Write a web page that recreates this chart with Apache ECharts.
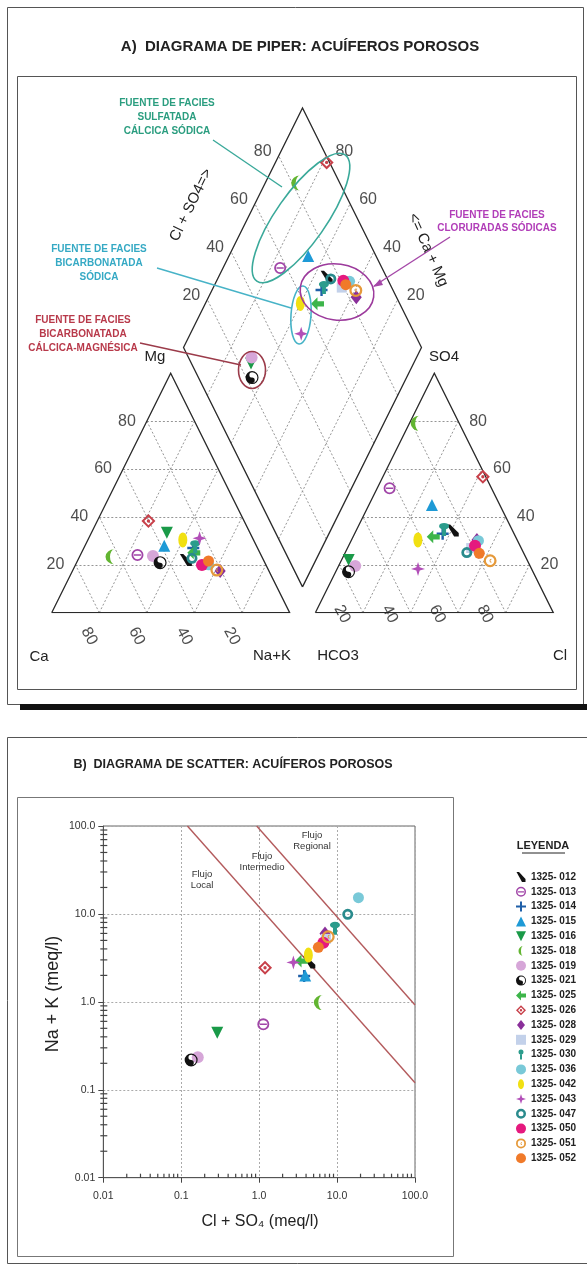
<!DOCTYPE html>
<html><head><meta charset="utf-8">
<script src="https://cdn.jsdelivr.net/npm/echarts@6/dist/echarts.min.js"></script>
<style>html,body{margin:0;padding:0;background:#fff}#c{width:587px;height:1267px}</style>
</head><body><div id="c"></div>
<script>
// ---------------- DATA ----------------
const sampleIds = ['1325- 012','1325- 013','1325- 014','1325- 015','1325- 016','1325- 018','1325- 019','1325- 021','1325- 025','1325- 026','1325- 028','1325- 029','1325- 030','1325- 036','1325- 042','1325- 043','1325- 047','1325- 050','1325- 051','1325- 052'];
// cations (% meq)
const caPct  = [32.6, 51.9, 27.0, 38.7, 34.9, 63.8, 45.6, 44.0, 27.8, 40.2, 20.5, 26.0, 25.9, 24.0, 29.7, 22.3, 29.7, 26.9, 21.7, 23.3];
const mgPct  = [22.0, 24.1, 27.0, 28.0, 33.4, 23.4, 23.7, 20.9, 25.0, 38.3, 17.4, 20.0, 27.6, 20.0, 30.4, 31.1, 22.7, 19.9, 17.8, 21.6];
const naKPct = [45.4, 24.0, 46.0, 33.3, 31.7, 12.8, 30.7, 35.1, 47.2, 21.5, 62.1, 54.0, 46.5, 56.0, 39.9, 46.6, 47.6, 53.2, 60.5, 55.1];
// anions (% meq)
const hco3Pct = [25.1, 42.8, 30.0, 28.5, 75.0, 18.5, 73.5, 77.5, 34.6, 1.2, 16.9, 21.0, 28.5, 16.4, 41.7, 47.7, 23.8, 18.9, 15.7, 18.7];
const so4Pct  = [34.3, 52.0, 33.0, 45.0, 22.0, 79.1, 19.5, 17.1, 31.7, 56.8, 30.4, 27.0, 34.8, 30.1, 30.4, 18.3, 25.1, 28.0, 21.7, 24.8];
const clPct   = [40.6, 5.2, 37.0, 26.5, 3.0, 2.4, 7.0, 5.4, 33.7, 42.0, 52.7, 52.0, 36.7, 53.5, 27.9, 34.0, 51.1, 53.1, 62.6, 56.5];
// scatter (meq/l)
const clSo4Meq = [4.4, 1.13, 3.78, 3.9, 0.29, 5.75, 0.163, 0.134, 3.5, 1.19, 7.0, 7.2, 9.4, 18.8, 4.28, 2.75, 13.7, 6.67, 7.7, 5.75];
const naKMeq   = [2.81, 0.555, 1.97, 2.0, 0.446, 0.98, 0.234, 0.218, 2.91, 2.44, 6.0, 5.2, 6.86, 15.3, 3.4, 2.81, 9.9, 4.7, 5.5, 4.17];
// flow boundaries (meq/l)
const flowLocalLine = [[0.12, 100], [100, 0.12]];
const flowRegionalLine = [[0.93, 100], [100, 0.92]];
// ticks
const piperTicks = [20, 40, 60, 80];
const logTicks = [0.01, 0.1, 1, 10, 100];
const xTickLabels = ['0.01', '0.1', '1.0', '10.0', '100.0'];
const yTickLabels = ['0.01', '0.1', '1.0', '10.0', '100.0'];
const minorMultipliers = [2, 3, 4, 5, 6, 7, 8, 9];

// ---------------- STYLE ----------------
const sampleColors = ['#111111','#a146a8','#1f5fa8','#1e9ad6','#1a9a48','#62b531','#d6a6d8','#111111','#3db54a','#c8404a','#8a2f9a','#c3d1ea','#2b9c8c','#79c9d8','#f1e012','#b24fb8','#2a8b8d','#e5197e','#e5993a','#f07a2a'];
const ring = 'M10,0 A10,10 0 1,1 10,20 A10,10 0 1,1 10,0 Z ';
const sampleSymbols = [
  'path://M2,0 L7,0 L20,14 L20,20 L13,20 Z',
  'path://' + ring + 'M10,3 A7,7 0 1,0 10,17 A7,7 0 1,0 10,3 Z M4,8.8 L16,8.8 L16,11.2 L4,11.2 Z',
  'path://M8,0 L12,0 L12,8 L20,8 L20,12 L12,12 L12,20 L8,20 L8,12 L0,12 L0,8 L8,8 Z',
  'triangle',
  'path://M0,0 L20,0 L10,20 Z',
  'path://M14,0 A10,10 0 0,0 14,20 A5,10 0 0,1 14,0 Z',
  'circle',
  'path://' + ring + 'M10,1.8 A8.2,8.2 0 1,0 10,18.2 A8.2,8.2 0 1,0 10,1.8 Z M10,1.8 A8.2,8.2 0 0,0 10,18.2 A4.1,4.1 0 0,0 10,10 A4.1,4.1 0 0,1 10,1.8 Z',
  'path://M0,10 L10,0 L10,6 L20,6 L20,14 L10,14 L10,20 Z',
  'path://M10,0 L20,10 L10,20 L0,10 Z M10,4 L4,10 L10,16 L16,10 Z M10,7.6 A2.4,2.4 0 1,1 10,12.4 A2.4,2.4 0 1,1 10,7.6 Z',
  'path://M10,0 L18,10 L10,20 L2,10 Z',
  'rect',
  'path://M10,0 A5,5 0 1,1 10,10 A5,5 0 1,1 10,0 Z M8,9 L12,9 L12,20 L8,20 Z',
  'circle',
  'path://M10,0 A6,10 0 1,1 10,20 A6,10 0 1,1 10,0 Z',
  'path://M10,0 L12.4,7.6 L20,10 L12.4,12.4 L10,20 L7.6,12.4 L0,10 L7.6,7.6 Z',
  'path://' + ring + 'M10,5 A5,5 0 1,0 10,15 A5,5 0 1,0 10,5 Z',
  'circle',
  'path://' + ring + 'M10,3.5 A6.5,6.5 0 1,0 10,16.5 A6.5,6.5 0 1,0 10,3.5 Z M12,7 A3,3 0 1,0 12,13 L12,11.5 A1.5,1.5 0 1,1 12,8.5 Z',
  'circle'
];
const sampleSizes = [12,12,12,12,12,[9,15],12,13,13,14,[11,14],10,[10,13],11,[9,15],14,11,12,13,11];

const FONT = "'Liberation Sans', Arial, Helvetica, sans-serif";
const GAP = 10.8;
const BX = 100 + GAP / 2, BY = GAP;
function triL(ca, mg, na) { return [na + mg / 2, mg]; }
function triR(hco3, so4, cl) { return [100 + GAP + cl + so4 / 2, so4]; }
function dia(caMg, clSo4) { return [BX - caMg / 2 + clSo4 / 2, BY + caMg + clSo4]; }

// piper grid lines
const gridSegs = [];
piperTicks.forEach(t => {
  gridSegs.push({coords: [triL(100 - t, t, 0), triL(0, t, 100 - t)]});
  gridSegs.push({coords: [triL(t, 0, 100 - t), triL(t, 100 - t, 0)]});
  gridSegs.push({coords: [triL(100 - t, 0, t), triL(0, 100 - t, t)]});
  gridSegs.push({coords: [triR(100 - t, t, 0), triR(0, t, 100 - t)]});
  gridSegs.push({coords: [triR(t, 0, 100 - t), triR(t, 100 - t, 0)]});
  gridSegs.push({coords: [triR(100 - t, 0, t), triR(0, 100 - t, t)]});
  gridSegs.push({coords: [dia(t, 0), dia(t, 100)]});
  gridSegs.push({coords: [dia(0, t), dia(100, t)]});
});
const outlines = [
  {coords: [triL(100,0,0), triL(0,0,100), triL(0,100,0), triL(100,0,0)]},
  {coords: [triR(100,0,0), triR(0,0,100), triR(0,100,0), triR(100,0,0)]},
  {coords: [dia(0,0), dia(100,0), dia(100,100), dia(0,100), dia(0,0)]}
];

const series = [];
series.push({type: 'lines', coordinateSystem: 'cartesian2d', xAxisIndex: 0, yAxisIndex: 0, silent: true, z: 1,
  lineStyle: {color: '#8a8a8a', width: 0.9, type: [2, 2], opacity: 1}, data: gridSegs});
series.push({type: 'lines', coordinateSystem: 'cartesian2d', xAxisIndex: 0, yAxisIndex: 0, silent: true, z: 2, polyline: true,
  lineStyle: {color: '#2a2a2a', width: 1.3, opacity: 1}, data: outlines});

function tickLabelSeries(points, offset, rotate) {
  return {type: 'scatter', xAxisIndex: 0, yAxisIndex: 0, silent: true, symbolSize: 0.01, z: 3,
    itemStyle: {color: 'rgba(0,0,0,0)'},
    label: {show: true, position: 'inside', offset: offset, rotate: rotate || 0, formatter: p => String(p.data[2]),
      color: '#222', fontSize: 16, fontFamily: FONT, align: 'center', verticalAlign: 'middle'},
    data: points};
}
series.push(tickLabelSeries(piperTicks.map(t => triL(100 - t, t, 0).concat([t])), [-20, 0]));
series.push(tickLabelSeries(piperTicks.map(t => triL(t, 0, 100 - t).concat([t])), [16, 20], -62));
series.push(tickLabelSeries(piperTicks.map(t => triR(0, t, 100 - t).concat([t])), [20, 0]));
series.push(tickLabelSeries(piperTicks.map(t => triR(100 - t, 0, t).concat([t])), [-8.5, 19], -62));
series.push(tickLabelSeries(piperTicks.map(t => dia(100, t).concat([t])), [-16, -4]));
series.push(tickLabelSeries(piperTicks.map(t => dia(t, 100).concat([t])), [18, -4]));

sampleIds.forEach((id, i) => {
  const pts = [
    triL(caPct[i], mgPct[i], naKPct[i]),
    triR(hco3Pct[i], so4Pct[i], clPct[i]),
    dia(caPct[i] + mgPct[i], so4Pct[i] + clPct[i])
  ];
  series.push({type: 'scatter', name: id, xAxisIndex: 0, yAxisIndex: 0, z: 5, symbol: sampleSymbols[i], symbolSize: sampleSizes[i],
    itemStyle: {color: sampleColors[i], opacity: 1}, data: pts, silent: true});
  series.push({type: 'scatter', name: id, xAxisIndex: 1, yAxisIndex: 1, z: 5, symbol: sampleSymbols[i], symbolSize: sampleSizes[i],
    itemStyle: {color: sampleColors[i], opacity: 1}, data: [[clSo4Meq[i], naKMeq[i]]], silent: true});
});

[flowLocalLine, flowRegionalLine].forEach(l => series.push({type: 'line', xAxisIndex: 1, yAxisIndex: 1, data: l, symbol: 'none',
  silent: true, z: 3, lineStyle: {color: '#b35a5c', width: 1.4}}));

const minorVals = [];
logTicks.slice(0, 4).forEach(d => minorMultipliers.forEach(m => minorVals.push(d * m)));
series.push({type: 'custom', xAxisIndex: 1, yAxisIndex: 1, silent: true, z: 4,
  data: minorVals.map(v => [v, 0.01]),
  renderItem: (params, api) => {
    const p = api.coord([api.value(0), api.value(1)]);
    return {type: 'line', shape: {x1: p[0], y1: p[1], x2: p[0], y2: p[1] - 4}, style: {stroke: '#444', lineWidth: 1.2}};
  }});
series.push({type: 'custom', xAxisIndex: 1, yAxisIndex: 1, silent: true, z: 4,
  data: minorVals.map(v => [0.01, v]),
  renderItem: (params, api) => {
    const p = api.coord([api.value(0), api.value(1)]);
    return {type: 'line', shape: {x1: p[0] - 3, y1: p[1], x2: p[0] + 4, y2: p[1]}, style: {stroke: '#444', lineWidth: 1.2}};
  }});

function logLabel(arr) { return v => arr[Math.round(Math.log10(v)) + 2]; }

function txt(x, y, text, o) {
  o = o || {};
  return {type: 'text', x: x, y: y, rotation: o.rot || 0, z: 20, silent: true,
    style: {text: text, fill: o.color || '#222', font: (o.weight || 'normal') + ' ' + (o.size || 15) + 'px ' + FONT,
      align: o.align || 'center', verticalAlign: 'middle', lineHeight: o.lh}};
}
function ell(cx, cy, rx, ry, rotDeg, color) {
  return {type: 'ellipse', x: cx, y: cy, rotation: rotDeg * Math.PI / 180, z: 15, silent: true,
    shape: {cx: 0, cy: 0, rx: rx, ry: ry}, style: {fill: 'none', stroke: color, lineWidth: 1.6}};
}
function seg(x1, y1, x2, y2, color, w) {
  return {type: 'line', z: 15, silent: true, shape: {x1, y1, x2, y2}, style: {stroke: color, lineWidth: w || 1.4}};
}

const graphics = [
  {type: 'rect', z: 0, silent: true, shape: {x: 7.5, y: 7.5, width: 576, height: 697}, style: {fill: 'none', stroke: '#555', lineWidth: 1}},
  {type: 'rect', z: 0, silent: true, shape: {x: 20, y: 704, width: 567, height: 6}, style: {fill: '#111'}},
  {type: 'rect', z: 0, silent: true, shape: {x: 17.5, y: 76.5, width: 559, height: 613}, style: {fill: 'none', stroke: '#555', lineWidth: 1}},
  {type: 'rect', z: 0, silent: true, shape: {x: 7.5, y: 737.5, width: 582, height: 526}, style: {fill: 'none', stroke: '#555', lineWidth: 1}},
  {type: 'rect', z: 0, silent: true, shape: {x: 17.5, y: 797.5, width: 436, height: 459}, style: {fill: 'none', stroke: '#777', lineWidth: 1}},
  txt(300, 47, 'A)  DIAGRAMA DE PIPER: ACUÍFEROS POROSOS', {weight: 'bold', size: 15}),
  txt(233, 765, 'B)  DIAGRAMA DE SCATTER: ACUÍFEROS POROSOS', {weight: 'bold', size: 12.5}),
  // piper vertex labels
  txt(155, 357, 'Mg', {size: 15}), txt(444, 357, 'SO4', {size: 15}),
  txt(39, 657, 'Ca', {size: 15}), txt(272, 656, 'Na+K', {size: 15}),
  txt(338, 656, 'HCO3', {size: 15}), txt(560, 656, 'Cl', {size: 15}),
  txt(191, 205, 'Cl + SO4=>', {size: 15, rot: 64 * Math.PI / 180}),
  txt(428, 250, '<= Ca + Mg', {size: 15, rot: -66 * Math.PI / 180}),
  // group ellipses
  ell(301, 218, 77, 25, 55, '#3aa99a'),
  ell(301, 315, 10, 29, -4, '#47b3c7'),
  ell(337, 292, 37, 28, -8, '#9c3a9c'),
  ell(252, 370, 13.5, 18.5, 0, '#9b3b4a'),
  // leader lines
  seg(213, 140, 282, 187, '#3aa99a'),
  seg(157, 268, 291, 308, '#47b3c7'),
  seg(140, 343, 241, 365, '#9b3b4a'),
  seg(450, 237, 374, 286, '#a548a8'),
  {type: 'polygon', z: 15, silent: true, shape: {points: [[373, 287], [380, 279], [383, 285]]}, style: {fill: '#a548a8'}},
  txt(167, 117, 'FUENTE DE FACIES\nSULFATADA\nCÁLCICA SÓDICA', {weight: 'bold', size: 10, color: '#2a9d7f', lh: 14}),
  txt(99, 263, 'FUENTE DE FACIES\nBICARBONATADA\nSÓDICA', {weight: 'bold', size: 10, color: '#35a9c4', lh: 14}),
  txt(83, 334, 'FUENTE DE FACIES\nBICARBONATADA\nCÁLCICA-MAGNÉSICA', {weight: 'bold', size: 10, color: '#b8394a', lh: 14}),
  txt(497, 222, 'FUENTE DE FACIES\nCLORURADAS SÓDICAS', {weight: 'bold', size: 10, color: '#b13db8', lh: 13}),
  // scatter annotations
  txt(202, 880, 'Flujo\nLocal', {size: 9.5, lh: 11, color: '#333'}),
  txt(262, 862, 'Flujo\nIntermedio', {size: 9.5, lh: 11, color: '#333'}),
  txt(312, 841, 'Flujo\nRegional', {size: 9.5, lh: 11, color: '#333'}),
  txt(260, 1222, 'Cl + SO₄ (meq/l)', {size: 16}),
  txt(53, 994, 'Na + K (meq/l)', {size: 18, rot: Math.PI / 2}),
  txt(543, 846, 'LEYENDA', {weight: 'bold', size: 11}),
  seg(522, 853, 565, 853, '#222', 1)
];

const option = {
  animation: false,
  backgroundColor: '#fff',
  grid: [
    {left: 51.7, top: 612.7 - 215 * 2.394, width: 501.6, height: 215 * 2.394, show: false},
    {left: 103.3, top: 826, width: 311.7, height: 351.7, show: true, borderColor: '#666', borderWidth: 1}
  ],
  xAxis: [
    {gridIndex: 0, type: 'value', min: 0, max: 200 + GAP, show: false},
    {gridIndex: 1, type: 'log', logBase: 10, min: 0.01, max: 100,
      axisLine: {lineStyle: {color: '#555'}}, axisTick: {length: 5, lineStyle: {color: '#444'}},
      axisLabel: {formatter: logLabel(xTickLabels), margin: 13, color: '#333', fontSize: 10.5, fontFamily: FONT},
      splitLine: {show: true, lineStyle: {color: '#aaa', type: [2, 2]}}, minorTick: {show: false}}
  ],
  yAxis: [
    {gridIndex: 0, type: 'value', min: 0, max: 215, show: false},
    {gridIndex: 1, type: 'log', logBase: 10, min: 0.01, max: 100,
      axisLine: {lineStyle: {color: '#555'}}, axisTick: {length: 5, lineStyle: {color: '#444'}},
      axisLabel: {formatter: logLabel(yTickLabels), margin: 8, color: '#333', fontSize: 10.5, fontFamily: FONT},
      splitLine: {show: true, lineStyle: {color: '#aaa', type: [2, 2]}}}
  ],
  legend: {orient: 'vertical', left: 511, top: 867, itemWidth: 10, itemHeight: 10, itemGap: 4.8, selectedMode: false,
    textStyle: {fontSize: 10, fontWeight: 'bold', fontFamily: FONT, color: '#222', lineHeight: 10},
    data: sampleIds.map((id, i) => ({name: id, icon: sampleSymbols[i], itemStyle: {color: sampleColors[i]}}))},
  graphic: graphics,
  series: series
};
const chart = echarts.init(document.getElementById('c'));
chart.setOption(option);
</script></body></html>
